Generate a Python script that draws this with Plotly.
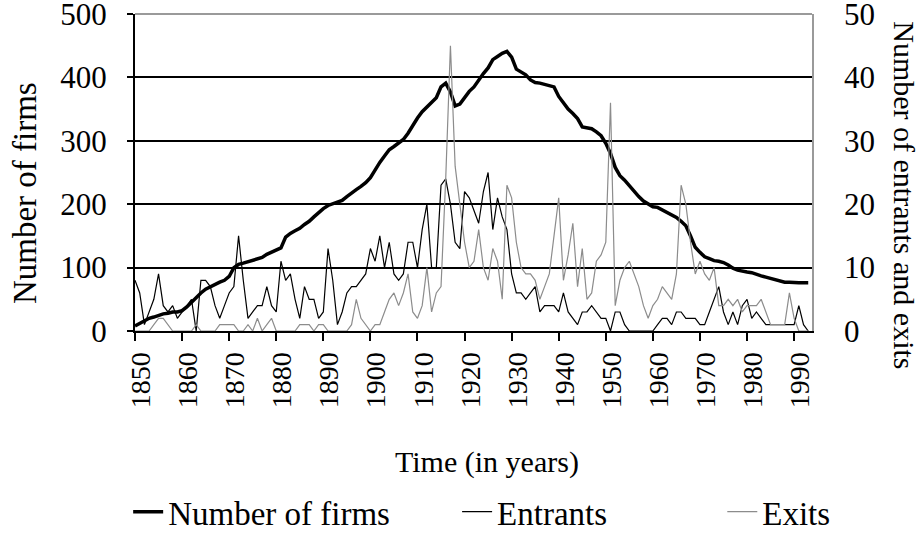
import plotly.graph_objects as go

years = list(range(1850, 1994))

firms = [
    8, 12, 16, 20, 22, 25, 27, 28, 30, 30,
    32, 38, 46, 53, 60, 66, 70, 74, 77, 80,
    86, 100, 105, 107, 109, 111, 113, 116, 121, 124,
    127, 131, 148, 154, 158, 162, 168, 173, 180, 187,
    193, 198, 201, 203, 206, 212, 218, 223, 228, 234,
    242, 255, 266, 276, 286, 291, 296, 302, 312, 325,
    336, 346, 353, 360, 368, 385, 391, 377, 355, 358,
    368, 378, 385, 396, 406, 415, 428, 433, 438, 441,
    432, 413, 408, 404, 396, 392, 391, 389, 387, 385,
    370, 360, 350, 343, 335, 322, 320, 319, 314, 308,
    296, 280, 258, 245, 238, 229, 220, 212, 205, 200,
    196, 195, 191, 187, 183, 179, 173, 166, 150, 132,
    124, 117, 114, 111, 110, 108, 104, 99, 96, 94,
    93, 92, 89, 87, 85, 83, 80, 78, 77, 77,
    76, 76, 76, 76,
]

entrants = [
    8, 6, 1, 3, 5, 9, 4, 3, 4, 2,
    3, 4, 5, 0, 8, 8, 7, 4, 2, 4,
    6, 7, 15, 8, 2, 3, 4, 4, 7, 4,
    3, 11, 8, 9, 5, 2, 7, 5, 5, 2,
    3, 13, 8, 1, 3, 6, 7, 7, 8, 9,
    13, 11, 15, 10, 14, 9, 8, 9, 14, 14,
    10, 16, 20, 10, 10, 23, 24, 20, 14, 13,
    22, 21, 19, 17, 22, 25, 16, 21, 18, 16,
    9, 6, 6, 5, 6, 7, 3, 4, 4, 4,
    3, 6, 3, 2, 1, 3, 3, 4, 3, 2,
    2, 0, 3, 3, 1, 0, 0, 0, 0, 0,
    0, 1, 2, 2, 1, 3, 3, 2, 2, 2,
    1, 1, 3, 5, 7, 3, 1, 3, 1, 4,
    5, 2, 3, 2, 1, 1, 1, 1, 1, 1,
    1, 4, 1, 0,
]

exits = [
    0, 0, 0, 0, 1, 2, 2, 1, 0, 0,
    0, 0, 0, 1, 0, 0, 0, 0, 1, 1,
    1, 1, 0, 0, 1, 0, 2, 0, 1, 2,
    0, 0, 0, 0, 0, 1, 1, 1, 0, 1,
    1, 0, 0, 0, 0, 0, 1, 5, 2, 1,
    0, 1, 1, 3, 5, 6, 4, 6, 9, 3,
    2, 4, 10, 3, 6, 7, 24, 45, 26, 20,
    14, 10, 11, 16, 10, 8, 13, 11, 5, 23,
    21, 14, 10, 9, 9, 8, 5, 7, 9, 15,
    21, 8, 12, 17, 7, 13, 5, 6, 11, 12,
    14, 36, 4, 8, 10, 11, 9, 7, 4, 2,
    4, 5, 7, 6, 5, 9, 23, 20, 14, 9,
    11, 9, 8, 10, 4, 4, 5, 4, 5, 3,
    4, 4, 4, 5, 3, 1, 1, 1, 1, 6,
    2, 0, 0, 0,
]

x_ticks = list(range(1850, 1991, 10))
left_ticks = [0, 100, 200, 300, 400, 500]
right_ticks = [0, 10, 20, 30, 40, 50]

FONT = "Liberation Serif"

fig = go.Figure()
fig.add_trace(go.Scatter(x=years, y=firms, mode="lines", name="Number of firms",
                         line=dict(color="black", width=3.5), legend="legend"))
fig.add_trace(go.Scatter(x=years, y=entrants, mode="lines", name="Entrants",
                         line=dict(color="black", width=1.2), yaxis="y2", legend="legend2"))
fig.add_trace(go.Scatter(x=years, y=exits, mode="lines", name="Exits",
                         line=dict(color="#8c8c8c", width=1.2), yaxis="y2", legend="legend3"))

leg_common = dict(orientation="h", xref="container", yref="container",
                  xanchor="left", yanchor="middle", bgcolor="rgba(0,0,0,0)",
                  font=dict(family=FONT, size=33, color="black"))

fig.update_layout(
    width=924, height=533,
    margin=dict(l=135, r=112, t=14, b=202, autoexpand=False),
    paper_bgcolor="white", plot_bgcolor="white",
    font=dict(family=FONT, size=31, color="black"),
    showlegend=True,
    legend=dict(x=0.1387, y=0.04, **leg_common),
    legend2=dict(x=0.4947, y=0.04, **leg_common),
    legend3=dict(x=0.7817, y=0.04, **leg_common),
    xaxis=dict(range=[1850, 1993.8], tickvals=x_ticks, ticktext=[str(v) for v in x_ticks],
               tickangle=-90, ticks="outside", ticklen=8, tickwidth=1.5, tickcolor="black",
               showline=True, linecolor="black", linewidth=2, showgrid=False, zeroline=False,
               automargin=False, ticklabelshift=6, tickfont=dict(family=FONT, size=28)),
    yaxis=dict(range=[0, 500], tickvals=left_ticks, ticks="outside", ticklen=6, tickwidth=1.5,
               tickcolor="black", showline=True, linecolor="black", linewidth=2,
               showgrid=True, gridcolor="black", gridwidth=1.6, zeroline=False,
               automargin=False, ticklabeloverflow="allow", ticklabelstandoff=14,
               tickfont=dict(family=FONT, size=31)),
    yaxis2=dict(range=[0, 50], tickvals=right_ticks, overlaying="y", side="right",
                showgrid=False, zeroline=False, showline=True, linecolor="#9a9a9a", linewidth=1.5,
                ticks="", automargin=False, ticklabeloverflow="allow", ticklabelstandoff=24,
                tickfont=dict(family=FONT, size=31)),
    shapes=[dict(type="line", xref="paper", yref="paper", x0=0, x1=1, y0=1, y1=1,
                 line=dict(color="#9a9a9a", width=2), layer="above")],
    annotations=[
        dict(text="Number of firms", xref="paper", yref="paper", x=-0.1625, y=0.435,
             xanchor="center", yanchor="middle",
             textangle=-90, showarrow=False, font=dict(family=FONT, size=33)),
        dict(text="Number of entrants and exits", xref="paper", yref="paper", x=1.137, y=0.429,
             xanchor="center", yanchor="middle",
             textangle=90, showarrow=False, font=dict(family=FONT, size=30)),
        dict(text="Time (in years)", xref="paper", yref="paper", x=0.52, y=-0.413,
             xanchor="center", yanchor="middle",
             showarrow=False, font=dict(family=FONT, size=30)),
    ],
)

fig.write_html("out.html", config={"displayModeBar": False},
               post_script="document.body.style.margin='0';")
